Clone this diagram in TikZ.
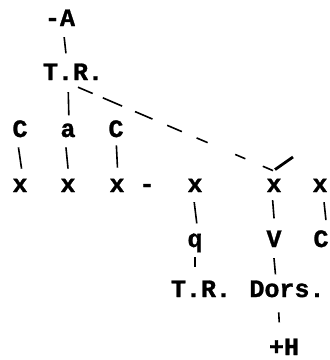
\documentclass[tikz,border=0pt]{standalone}
\usepackage{fontspec}
\newfontfamily\twfont[BoldFeatures={FakeBold=1.2}]{Liberation Mono}
\begin{document}
\begin{tikzpicture}[x=1pt,y=-1pt,
  lbl/.style={font=\twfont\bfseries\fontsize{25}{29}\selectfont, inner sep=0pt, anchor=base},
  link/.style={line width=1.6pt, shorten <=#1, shorten >=#1},
  link/.default=10pt,
  dashlink/.style={line width=1.6pt, dash pattern=on 16pt off 11pt on 21pt off 14pt on 19pt off 16pt on 16pt off 16pt on 12pt off 30pt on 11pt off 19pt on 12pt off 40pt}]
\useasboundingbox (0,0) rectangle (330,360);
% nodes
\node[lbl] (A) at (60,26) {-A};
\node[lbl] (TR1) at (73,80) {T.R.};
\node[lbl] (C1) at (20,137) {C};
\node[lbl] (a) at (68,137) {a};
\node[lbl] (C2) at (116,137) {C};
\node[lbl] (x1) at (20,192) {x};
\node[lbl] (x2) at (68,192) {x};
\node[lbl] (x3) at (117,192) {x};
\node[lbl] (hy) at (147,192) {-};
\node[lbl] (x4) at (195,192) {x};
\node[lbl] (x5) at (274,192) {x};
\node[lbl] (x6) at (320,192) {x};
\node[lbl] (q) at (195,247) {q};
\node[lbl] (V) at (274,247) {V};
\node[lbl] (C3) at (321,247) {C};
\node[lbl] (TR2) at (201,297) {T.R.};
\node[lbl] (Dors) at (287,297) {Dors.};
\node[lbl] (H) at (284,355) {+H};
\coordinate (tk) at (293,157);
% connectors
\draw[link, shorten <=11pt, shorten >=10pt] ([xshift=3pt]A.south) -- ([xshift=-6pt]TR1.north);
\draw[link, shorten <=12pt, shorten >=8pt] ([xshift=-5pt]TR1.south) -- ([xshift=1pt]a.north);
\draw[link] ([xshift=-3pt]C1.south) -- ([xshift=3pt]x1.north);
\draw[link] ([xshift=-3pt]a.south) -- ([xshift=1pt]x2.north);
\draw[link, shorten <=8pt, shorten >=11pt] (C2.south) -- ([xshift=1pt]x3.north);
\draw[link] ([xshift=-2pt]x4.south) -- ([xshift=3pt]q.north);
\draw[link, shorten <=5pt, shorten >=13pt] (q.south) -- ([xshift=-6pt]TR2.north);
\draw[link, shorten <=8pt, shorten >=12pt] ([xshift=-2pt]x5.south) -- ([xshift=1pt]V.north);
\draw[link, shorten <=11pt, shorten >=6pt] ([xshift=-1pt]V.south) -- ([xshift=-11pt]Dors.north);
\draw[link] ([xshift=3pt]x6.south) -- ([xshift=6pt]C3.north);
\draw[link, shorten <=15pt, shorten >=16pt] ([xshift=-9pt]Dors.south) -- ([xshift=-4pt]H.north);
\draw[dashlink] ([shift={(5pt,-7pt)}]TR1.south) -- ([shift={(-1pt,8pt)}]x5.north);
\draw[line width=2.8pt] ([shift={(1pt,9pt)}]x5.north) -- (tk);
\end{tikzpicture}
\end{document}
